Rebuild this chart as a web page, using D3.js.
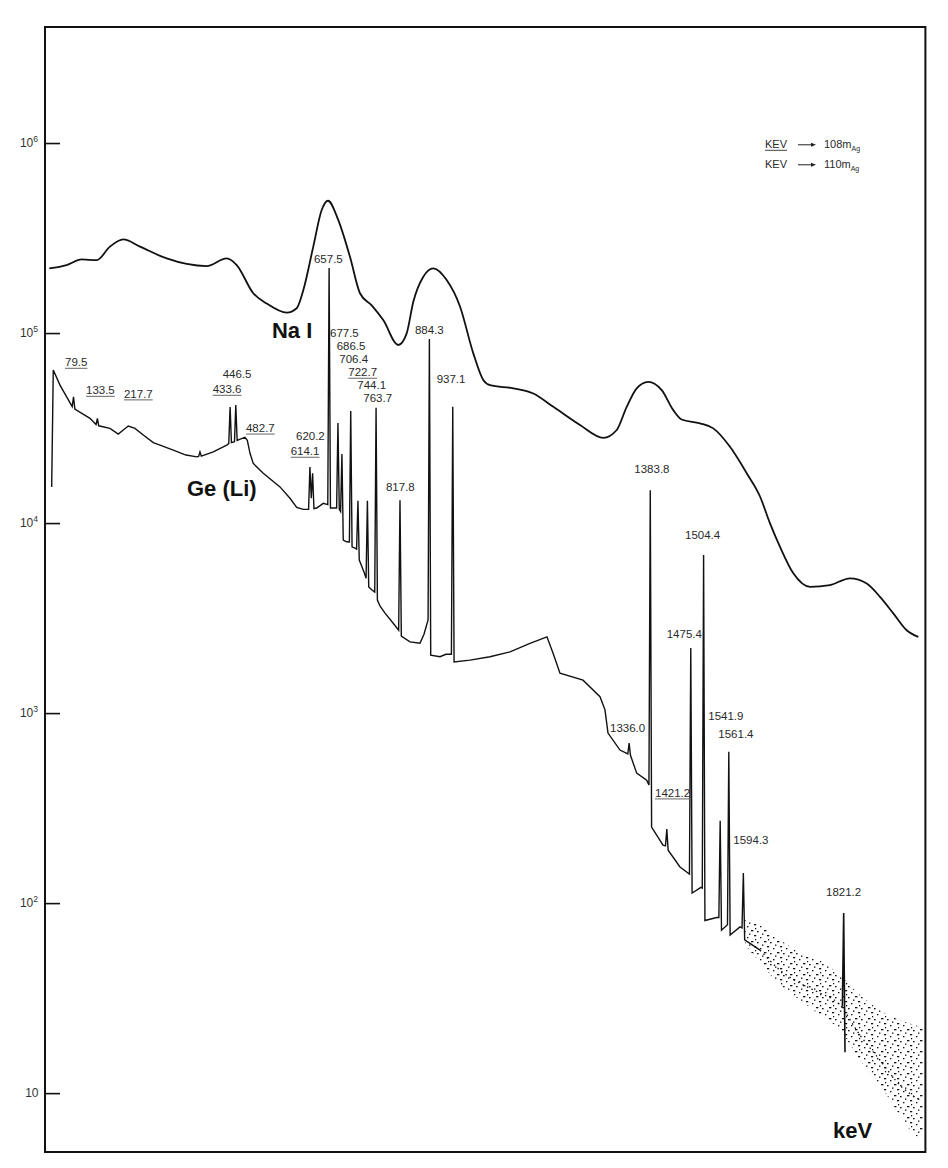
<!DOCTYPE html>
<html><head><meta charset="utf-8">
<script src="https://cdn.jsdelivr.net/npm/d3@7"></script>
<style>
body{margin:0;background:#fff}
text{font-family:"Liberation Sans",Arial,Helvetica,sans-serif}
</style>
</head><body>
<svg id="c" width="948" height="1168"></svg>
<script>
// ---------- DATA (energy keV, counts) ----------
const yTicks = [10, 1e2, 1e3, 1e4, 1e5, 1e6];
const yTickExp = [1, 2, 3, 4, 5, 6];

const naiSpectrum = [
[24.7,219000],[64.0,228000],[97.9,244000],[131.9,242000],[161.9,285000],[192.0,311000],
[229.8,285000],[290.2,247000],[335.4,231000],[380.6,225000],[425.9,247000],[448.5,228000],
[486.0,162000],[516.3,143000],[561.6,128000],[584.2,135000],[599.1,168000],[621.7,285000],
[640.7,444000],[655.0,497000],[678.3,393000],[704.7,252000],[727.3,162000],[753.8,140000],
[780.0,117000],[813.9,86500],[832.9,99600],[847.9,146000],[870.5,198000],[893.1,219000],
[923.4,190000],[953.5,138000],[983.6,78200],[1006.2,56600],[1021.3,53200],[1074.0,51200],
[1119.3,48100],[1164.5,40900],[1224.9,32800],[1277.6,28100],[1307.9,30900],[1330.5,40900],
[1353.1,51200],[1379.3,55400],[1409.7,50100],[1435.9,39300],[1454.9,35100],[1496.3,33500],
[1526.3,31500],[1564.1,25200],[1601.9,18300],[1632.0,13800],[1654.6,9960],[1677.2,7500],
[1707.3,5440],[1745.1,4620],[1790.3,4720],[1835.5,5120],[1873.3,4810],[1903.4,4090],
[1933.4,3350],[1963.7,2730],[1990.0,2520]
];

const geSpectrum = [
[30.1,15500],[33.7,63900],[48.9,53200],[64.0,46200],
[76.5,41000],[79.5,46200],[82.5,39800],
[116.7,35600],[130.5,33000],[133.5,35600],[136.5,32500],
[161.9,31500],[180.7,29400],[192.0,30900],[203.3,32400],[218.5,31500],[237.2,29100],
[259.9,26500],[275.0,25700],[305.1,24200],[333.8,22800],[358.7,22300],
[362.5,22400],[365.5,23700],[368.5,22500],[395.6,23700],[425.9,25700],
[430.6,26200],[433.6,40800],[436.6,26500],[443.5,26800],[446.5,41800],[449.5,27200],
[467.2,28300],[472.5,27300],[478.6,23300],[486.0,20600],[508.6,18300],[546.4,15500],
[569.0,13500],[584.2,12100],[599.1,11800],
[611.1,11800],[614.1,19700],[617.2,13500],[620.2,18300],[623.2,11900],
[629.4,12000],[644.3,12700],
[654.5,12500],[657.5,220000],[660.5,12000],[666.3,12000],
[674.5,12000],[677.5,33600],[680.5,11800],[683.5,11500],[686.5,23100],[689.5,8140],
[697.3,7970],[703.4,7950],[706.4,38900],[709.4,7500],[716.0,7380],
[719.7,7300],[722.7,13100],[725.7,6390],[736.4,5520],
[741.1,5130],[744.1,13100],[747.1,4610],[754.5,4440],
[760.7,4330],[763.7,40400],[766.7,3930],[772.5,3660],[783.9,3360],[802.0,2980],
[814.8,2730],[817.8,13200],[820.8,2540],[840.4,2370],[863.0,2330],[872.1,2600],
[881.3,3090],[884.3,93000],[887.3,2020],[908.3,1980],[921.8,2040],
[934.1,2040],[937.1,40900],[940.1,1860],[976.1,1900],[1021.3,1980],[1066.6,2100],
[1111.8,2330],[1150.2,2520],[1163.8,2070],[1179.6,1620],[1231.7,1490],[1270.1,1220],
[1281.4,1040],[1288.2,785],[1315.3,639],
[1333.0,610],[1336.0,695],[1339.0,600],[1353.1,483],[1375.7,444],
[1380.8,418],[1383.8,14900],[1386.8,251],[1412.6,202],
[1418.2,200],[1421.2,245],[1424.2,190],[1451.0,155],[1469.1,144],
[1472.4,142],[1475.4,2200],[1478.4,113],[1498.5,121],
[1501.4,120],[1504.4,6790],[1507.4,81],[1534.0,84],
[1538.9,84],[1541.9,271],[1544.9,72],
[1558.4,77],[1561.4,626],[1564.4,68],[1586.7,75],
[1591.3,74],[1594.3,144],[1597.3,64],[1632.0,56.6]
];

// high-energy Ge(Li) tail: centre trend, scatter band [E, upper, lower], 1821.2 peak
const geTail = [
[1632.0,56.6],[1677.2,44.4],[1722.4,37.9],[1767.7,33.6],[1808.4,29.8],
[1858.1,20.2],[1903.4,14.9],[1948.6,11.0],[1993.8,9.19]
];
const geTailBand = [
[1598.1,83.4,60.1],[1632.0,76.6,48.9],[1677.2,63.9,37.0],[1722.4,55.2,30.9],
[1767.7,50.1,25.7],[1812.9,41.8,21.5],[1858.1,32.8,14.9],[1903.4,27.3,11.0],
[1948.6,24.2,7.66],[1982.5,22.8,6.01],[2000.6,22.0,5.80]
];
const gePeak1821 = [[1818.2,28.5],[1821.2,88.6],[1824.2,16.4]];

// peak labels: [text, energy, counts, underlined(108mAg), underline end energy]
const peakLabels = [
["79.5",60.2,67000,true],["133.5",107.7,47700,true],["217.7",193.6,45700,true],
["446.5",416.8,58000,false],["433.6",394.2,48300,true],["482.7",469.5,30200,true],
["620.2",582.6,27300,false],["614.1",570.6,22800,true],["657.5",623.3,234000,false],
["677.5",659.5,94900,false],["686.5",674.6,81400,false],["706.4",680.5,69300,false],
["722.7",700.9,59400,true],["744.1",721.2,50700,false],["763.7",734.8,43500,false],
["884.3",851.7,98800,false],["937.1",900.8,54700,false],["817.8",786.1,14800,false],
["1383.8",1347.7,18300,false],["1504.4",1462.4,8210,false],["1475.4",1421.0,2470,false],
["1541.9",1515.0,924,false],["1561.4",1537.7,736,false],["1336.0",1292.7,791,false],
["1421.2",1394.5,363,true,1476],["1594.3",1571.6,204,false],["1821.2",1781.2,109,false]
];
// series names: [text, energy, counts]
const seriesLabels = [["Na I",528.3,94100],["Ge (Li)",336.1,13800],["keV",1797.1,5.8]];
const legendRows = [["KEV","108m","Ag",true],["KEV","110m","Ag",false]];

// ---------- CHART ----------
const svg = d3.select("#c");
const x = d3.scaleLinear().domain([15, 2006]).range([45, 925.4]);
const y = d3.scaleLog().domain([4.9, 4.08e6]).range([1152, 27]);
const [x0, x1] = x.range(), [yb, yt] = y.range();

// sparse dot texture for the scatter cloud (style only)
const defs = svg.append("defs");
const pat = defs.append("pattern").attr("id","dots").attr("patternUnits","userSpaceOnUse")
  .attr("width",13).attr("height",11);
[[0,0,2.2],[6,2,1.4],[10,6,2.4],[3,7,1.6],[8,9.5,1.4],[1,4,1.2]].forEach(p=>{
  pat.append("rect").attr("x",p[0]).attr("y",p[1]).attr("width",p[2]).attr("height",1.3).attr("fill","#111");
});

// axis ticks (inward)
const axis = d3.axisLeft(y).tickValues(yTicks).tickSize(-15).tickFormat("");
const gA = svg.append("g").attr("transform",`translate(${x0},0)`).call(axis);
gA.select(".domain").remove();
gA.selectAll("line").attr("stroke","#111").attr("stroke-width",1.6);

yTicks.forEach((v,i)=>{
  const t = svg.append("text").attr("x", yTickExp[i]>1 ? 38 : 38.5).attr("y", y(v)+4)
    .attr("text-anchor","end").attr("font-size",12).attr("fill","#333");
  t.append("tspan").text("10");
  if (yTickExp[i] > 1) t.append("tspan").attr("font-size",8.5).attr("dy",-5).text(yTickExp[i]);
});

// NaI
const lineSmooth = d3.line().x(d=>x(d[0])).y(d=>y(d[1])).curve(d3.curveMonotoneX);
svg.append("path").datum(naiSpectrum).attr("d",lineSmooth)
  .attr("fill","none").attr("stroke","#111").attr("stroke-width",1.8).attr("stroke-linejoin","round");

// Ge(Li)
const lineLin = d3.line().x(d=>x(d[0])).y(d=>y(d[1]));
svg.append("path").datum(geSpectrum).attr("d",lineLin)
  .attr("fill","none").attr("stroke","#111").attr("stroke-width",1.4).attr("stroke-linejoin","miter");

const band = d3.area().x(d=>x(d[0])).y0(d=>y(d[2])).y1(d=>y(d[1])).curve(d3.curveMonotoneX);
svg.append("path").datum(geTailBand).attr("d",band).attr("fill","url(#dots)");
svg.append("path").datum(geTail).attr("d",lineSmooth).attr("fill","none")
  .attr("stroke","#111").attr("stroke-width",1.3).attr("stroke-dasharray","1.5,3.5");
svg.append("path").datum(gePeak1821).attr("d",lineLin).attr("fill","none")
  .attr("stroke","#111").attr("stroke-width",1.6);

// peak labels
peakLabels.forEach(d=>{
  const tx = x(d[1]), ty = y(d[2]);
  const t = svg.append("text").attr("x",tx).attr("y",ty).attr("font-size",11.5)
    .attr("fill","#2a2a2a").text(d[0]);
  if (d[3]) {
    const len = t.node().getComputedTextLength();
    const xe = d[4] ? x(d[4]) : tx + len;
    svg.append("line").attr("x1",tx).attr("x2",xe).attr("y1",ty+2.2).attr("y2",ty+2.2)
      .attr("stroke","#666").attr("stroke-width",1);
  }
});

// series labels
seriesLabels.forEach(d=>{
  svg.append("text").attr("x",x(d[1])).attr("y",y(d[2])).attr("font-size",22)
    .attr("font-weight","bold").attr("fill","#111").text(d[0]);
});

// legend
legendRows.forEach((r,i)=>{
  const ly = 148.3 + i*20;
  const t = svg.append("text").attr("x",765).attr("y",ly).attr("font-size",11).attr("fill","#2a2a2a").text(r[0]);
  if (r[3]) {
    const len = t.node().getComputedTextLength();
    svg.append("line").attr("x1",765).attr("x2",765+len).attr("y1",ly+2).attr("y2",ly+2)
      .attr("stroke","#444").attr("stroke-width",1);
  }
  svg.append("line").attr("x1",798).attr("x2",812).attr("y1",ly-3.5).attr("y2",ly-3.5)
    .attr("stroke","#222").attr("stroke-width",1);
  svg.append("path").attr("d",`M811,${ly-5.5}L816,${ly-3.5}L811,${ly-1.5}Z`).attr("fill","#222");
  const t2 = svg.append("text").attr("x",824).attr("y",ly).attr("font-size",11).attr("fill","#2a2a2a");
  t2.append("tspan").text(r[1]);
  t2.append("tspan").attr("font-size",7).attr("dy",3).text(r[2]);
});

// frame
svg.append("rect").attr("x",x0).attr("y",yt).attr("width",x1-x0).attr("height",yb-yt)
  .attr("fill","none").attr("stroke","#111").attr("stroke-width",2);
</script>
</body></html>
